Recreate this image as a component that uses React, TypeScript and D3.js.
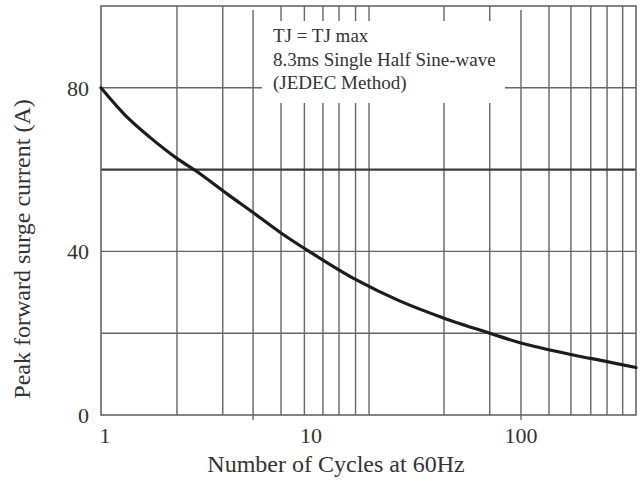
import React from 'react';
import * as d3 from 'd3';

// values
const cycles = [1, 1.32, 1.7, 2.29, 2.96, 4, 5.3, 7.2, 10, 16.2, 26.4, 42.4, 71, 100, 173, 254, 353];
const current = [80, 73, 68, 62.8, 59, 54, 49.5, 44.5, 39.7, 33.2, 27.9, 23.8, 20, 17.6, 14.8, 13.1, 11.6];

const xGrid = [2.3, 3.8, 5.3, 7.2, 9.3, 11.4, 13.6, 16.3, 18.9, 43, 71, 100, 136, 173, 215, 257, 305];
const xTickMarks = [5.3, 100];
const xLabels = [1, 10, 100];
const yGrid = [20, 40, 60, 80];
const yLabels = [0, 40, 80];
const noteLines = ['TJ = TJ max', '8.3ms Single Half Sine-wave', '(JEDEC Method)'];

const W = 642;
const H = 481;
const margin = { top: 6, right: 6, bottom: 66, left: 101 };
const FONT = '"Liberation Serif", "Times New Roman", serif';
const GRID = '#666';
const TEXT = '#333';

export default function App() {
  const x = d3.scaleLog().domain([1, 353]).range([margin.left, W - margin.right]);
  const y = d3.scaleLinear().domain([0, 100]).range([H - margin.bottom, margin.top]);

  const line = d3
    .line<number>()
    .x((_, i) => x(cycles[i]))
    .y((d) => y(d))
    .curve(d3.curveCatmullRom.alpha(0.5));

  const [x0, x1] = x.range();
  const [y0, y1] = y.range();

  // white label box that breaks the grid
  const box = { x: 262, y: 21, w: 243, h: 82 };

  return (
    <svg
      width={W}
      height={H}
      style={{ position: 'absolute', left: 0, top: 0, background: '#fff' }}
      fontFamily={FONT}
    >
      <g stroke={GRID} strokeWidth={1.4} fill="none">
        {xGrid.map((v) => (
          <line
            key={'gx' + v}
            x1={x(v)}
            x2={x(v)}
            y1={xTickMarks.includes(v) ? y1 + 4 : y1}
            y2={xTickMarks.includes(v) ? y0 + 5 : y0}
          />
        ))}
        {yGrid.map((v) => (
          <line
            key={'gy' + v}
            x1={x0}
            x2={x1}
            y1={y(v)}
            y2={y(v)}
            strokeWidth={v === 60 ? 2.2 : 1.4}
            stroke={v === 60 ? '#3a3a3a' : GRID}
          />
        ))}
      </g>

      <rect x={box.x} y={box.y} width={box.w} height={box.h} fill="#fff" />

      <rect x={x0} y={y1} width={x1 - x0} height={y0 - y1} fill="none" stroke={GRID} strokeWidth={1.6} />

      <path d={line(current) ?? ''} fill="none" stroke="#1c1c1c" strokeWidth={3.2} strokeLinecap="round" />

      <g fill={TEXT} fontSize={19}>
        {noteLines.map((t, i) => (
          <text key={t} x={273} y={42 + i * 23.5}>
            {t}
          </text>
        ))}
      </g>

      <g fill={TEXT} fontSize={22}>
        {yLabels.map((v) => (
          <text key={'yl' + v} x={89} y={y(v)} dy="0.35em" textAnchor="end">
            {v}
          </text>
        ))}
        {xLabels.map((v) => (
          <text key={'xl' + v} x={x(v) + (v === 1 ? 4 : 0)} y={443} textAnchor="middle">
            {v}
          </text>
        ))}
      </g>

      <text x={336} y={472} fontSize={24} fill={TEXT} textAnchor="middle">
        Number of Cycles at 60Hz
      </text>
      <text
        transform={`translate(30, 249) rotate(-90)`}
        fontSize={24}
        fill={TEXT}
        textAnchor="middle"
      >
        Peak forward surge current (A)
      </text>
    </svg>
  );
}
